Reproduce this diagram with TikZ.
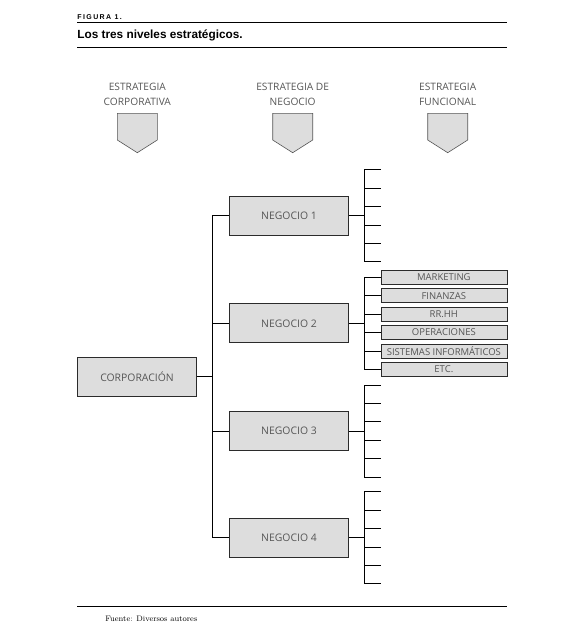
\documentclass[tikz,border=0pt]{standalone}
\usepackage{fontspec}
\usetikzlibrary{calc}
\newfontfamily\osans{Open Sans}
\newfontfamily\titlefont{Liberation Sans}
\newfontfamily\figfont[LetterSpace=20]{Liberation Sans}
\definecolor{boxfill}{HTML}{DDDDDD}
\definecolor{boxline}{HTML}{2B2B2B}
\definecolor{arrowline}{HTML}{555555}
\definecolor{txtgray}{HTML}{555555}
\begin{document}
\begin{tikzpicture}[x=1pt,y=-1pt,line width=0.8pt,
  box/.style={draw=boxline,fill=boxfill,minimum width=119pt,minimum height=39pt,inner sep=0pt,
    font=\osans\fontsize{10.4}{12}\selectfont,text=txtgray},
  fbox/.style={draw=boxline,fill=boxfill,line width=0.7pt,minimum width=126pt,minimum height=14pt,inner sep=0pt,
    font=\osans\fontsize{9.5}{11}\selectfont,text=txtgray},
  head/.style={align=center,font=\osans\fontsize{10.2}{15}\selectfont,text=txtgray,inner sep=0pt,anchor=base},
  conn/.style={draw=black,line width=0.8pt},
  rule/.style={draw=black,line width=1pt},
  pent/.style={draw=arrowline,fill=boxfill,line width=0.6pt}]
\useasboundingbox (0,0) rectangle (584,641);

% heading
\node[anchor=base west,inner sep=0pt,font=\figfont\bfseries\fontsize{7}{8}\selectfont] (fig) at (77,19.3) {FIGURA 1.};
\draw[rule] (77,22.7) -- (507,22.7);
\node[anchor=base west,inner sep=0pt,font=\titlefont\bfseries\fontsize{11.8}{13}\selectfont] (title) at (77,38.7) {Los tres niveles estratégicos.};
\draw[rule] (77,47.3) -- (507,47.3);

% column headers
\node[head] (h1) at (137.3,105.7) {ESTRATEGIA\\CORPORATIVA};
\node[head] (h2) at (292.7,105.7) {ESTRATEGIA DE\\NEGOCIO};
\node[head] (h3) at (447.7,105.7) {ESTRATEGIA\\FUNCIONAL};
\foreach \x in {137.3,292.7,447.7}
  \draw[pent] (\x-20,113.3) -- (\x+20,113.3) -- (\x+20,140) -- (\x,152.7) -- (\x-20,140) -- cycle;

% boxes
\node[box,minimum width=119.4pt,minimum height=38.7pt] (corp) at (137,376.7) {CORPORACIÓN};
\node[box] (n1) at (289,215.7) {NEGOCIO 1};
\node[box] (n2) at (289,323.3) {NEGOCIO 2};
\node[box] (n3) at (289,431) {NEGOCIO 3};
\node[box] (n4) at (289,537.8) {NEGOCIO 4};

\coordinate (tr) at (212.5,0);
\coordinate (bx) at (364.3,0);
\coordinate (tx) at (380.7,0);

% trunk
\draw[conn] (corp.east) -- (corp.east -| tr);
\draw[conn] (n1.west) -- (n1.west -| tr) -- (n4.west -| tr) -- (n4.west);
\foreach \n in {n2,n3}
  \draw[conn] (\n.west -| tr) -- (\n.west);

% functional boxes of negocio 2
\foreach \t [count=\i] in {MARKETING,FINANZAS,RR.HH,OPERACIONES,SISTEMAS INFORMÁTICOS,ETC.}
  \node[fbox] (f\i) at (443.85,{323.3-46+(\i-1)*18.4}) {\t};

% brackets
\foreach \n in {n1,n2,n3,n4}
  \draw[conn] (\n.east) -- (\n.east -| bx);
\draw[conn] (f1.west) -- (f1.west -| bx) -- (f6.west -| bx) -- (f6.west);
\foreach \i in {2,...,5}
  \draw[conn] (f\i.west -| bx) -- (f\i.west);
\foreach \n in {n1,n3,n4}{
  \draw[conn] ($(\n.east -| tx)+(0,-46)$) -- ($(\n.east -| bx)+(0,-46)$) -- ($(\n.east -| bx)+(0,46)$) -- ($(\n.east -| tx)+(0,46)$);
  \foreach \d in {-27.6,-9.2,9.2,27.6}
    \draw[conn] ($(\n.east -| bx)+(0,\d)$) -- ($(\n.east -| tx)+(0,\d)$);
}

% source
\draw[rule] (77,606) -- (507,606);
\node[anchor=base west,inner sep=0pt,font=\fontsize{8}{9}\selectfont] (src) at (105,621.7) {Fuente: Diversos autores};
\end{tikzpicture}
\end{document}
